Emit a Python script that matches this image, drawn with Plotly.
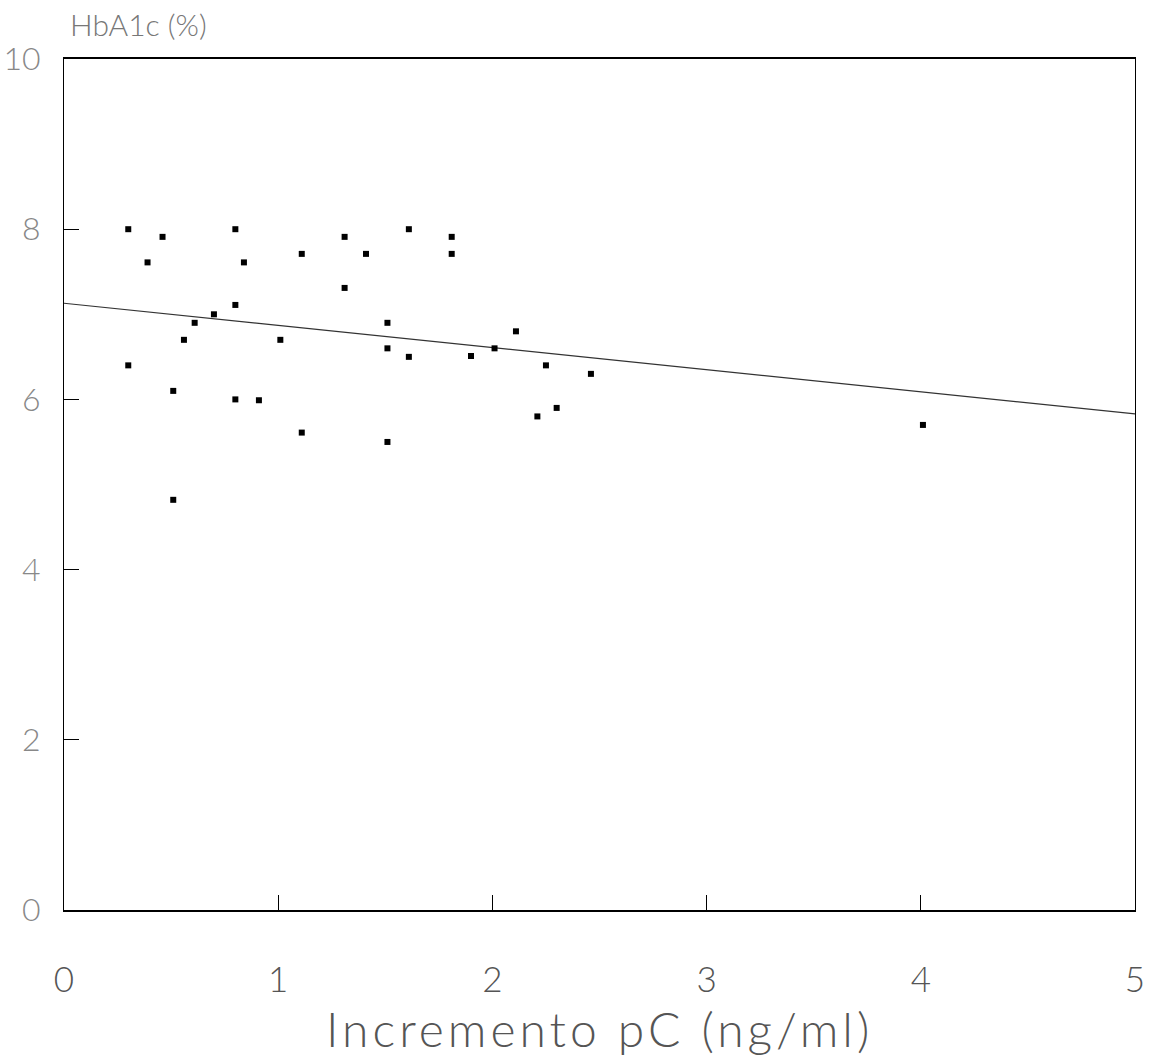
import plotly.graph_objects as go

# Incremento de péptido C frente a HbA1c
incremento_pc = [0.30, 0.46, 0.39, 0.30, 0.51, 0.51, 0.56, 0.61, 0.70, 0.80,
                 0.80, 0.84, 0.80, 0.91, 1.01, 1.11, 1.11, 1.31, 1.31, 1.41,
                 1.51, 1.51, 1.51, 1.61, 1.61, 1.81, 1.81, 1.90, 2.01, 2.11,
                 2.21, 2.25, 2.30, 2.46, 4.01]
hba1c = [8.00, 7.91, 7.61, 6.40, 6.10, 4.82, 6.70, 6.90, 7.00, 8.00,
         7.11, 7.61, 6.00, 5.99, 6.70, 7.71, 5.61, 7.91, 7.31, 7.71,
         6.90, 6.60, 5.50, 8.00, 6.50, 7.91, 7.71, 6.51, 6.60, 6.80,
         5.80, 6.40, 5.90, 6.30, 5.70]

# Recta de regresión (extremos)
recta_x = [0, 5]
recta_y = [7.13, 5.83]

x_ticks = [0, 1, 2, 3, 4, 5]
y_ticks = [0, 2, 4, 6, 8, 10]

font_family = "Lato, 'DejaVu Sans', sans-serif"
text_color = "#555555"

fig = go.Figure()

fig.add_trace(go.Scatter(
    x=recta_x, y=recta_y, mode="lines",
    line=dict(color="#333333", width=1.2),
    showlegend=False, hoverinfo="skip",
))

fig.add_trace(go.Scatter(
    x=incremento_pc, y=hba1c, mode="markers",
    marker=dict(symbol="square", size=6, color="black"),
    showlegend=False,
))

fig.update_layout(
    width=1157, height=1056,
    margin=dict(l=64, r=22, t=59, b=146),
    paper_bgcolor="white", plot_bgcolor="white",
    font=dict(family=font_family, color=text_color, size=26, weight=300),
    annotations=[
        dict(
            text="HbA1c (%)", xref="paper", yref="paper",
            x=0.004, y=1.0, yshift=35, xanchor="left", yanchor="middle",
            showarrow=False,
            font=dict(family=font_family, size=30, color="#777777", weight=300),
        ),
        dict(
            text='<span style="letter-spacing:4px">Incremento pC (ng/ml)</span>',
            xref="paper", yref="paper",
            x=0.5, y=0.0, yshift=-118, xanchor="center", yanchor="middle",
            showarrow=False,
            font=dict(family=font_family, size=48, color=text_color, weight=300),
        ),
    ],
)

fig.update_xaxes(
    range=[0, 5], tickvals=x_ticks, ticktext=[str(v) for v in x_ticks],
    showgrid=False, zeroline=False, automargin=False,
    showline=True, linecolor="black", linewidth=1.5, mirror=True,
    ticks="inside", ticklen=15, tickcolor="black", tickwidth=1,
    ticklabelstandoff=38,
    tickfont=dict(size=35, color=text_color),
)

fig.update_yaxes(
    range=[0, 10], tickvals=y_ticks, ticktext=[str(v) for v in y_ticks],
    showgrid=False, zeroline=False, automargin=False,
    showline=True, linecolor="black", linewidth=1.2, mirror=True,
    ticks="inside", ticklen=15, tickcolor="black", tickwidth=1,
    ticklabelstandoff=16,
    tickfont=dict(size=32, color="#888888"),
)

fig.write_html("out.html")
